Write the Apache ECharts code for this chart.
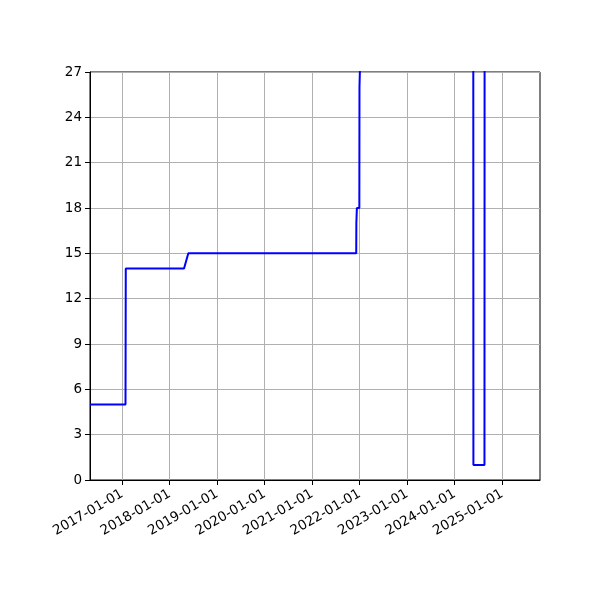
<!DOCTYPE html>
<html>
<head>
<meta charset="utf-8">
<script src="https://cdn.jsdelivr.net/npm/echarts@6/dist/echarts.min.js"></script>
<style>
  html, body { margin: 0; padding: 0; background: #fff; }
  #chart { width: 600px; height: 600px; }
</style>
</head>
<body>
<div id="chart"></div>
<script>
// data (values above 27 are off the top of the plot)
var dates = ['2016-04-28', '2017-01-26', '2017-01-28', '2018-04-21', '2018-05-24',
             '2021-12-05', '2021-12-06', '2021-12-09', '2021-12-10', '2021-12-29',
             '2021-12-30', '2022-01-10', '2022-01-11', '2024-05-23', '2024-05-24',
             '2024-08-17', '2024-08-18', '2025-06-01'];
var values = [5, 5, 14, 14, 15,
              15, 17, 17, 18, 18,
              26, 26, 30, 30, 1,
              1, 30, 30];
var yearTicks = ['2017-01-01', '2018-01-01', '2019-01-01', '2020-01-01', '2021-01-01',
                 '2022-01-01', '2023-01-01', '2024-01-01', '2025-01-01'];
var xMin = '2016-04-28';
var xMax = '2025-10-18';

function ts(s) { return new Date(s + 'T00:00:00Z').getTime(); }

var tickTimes = yearTicks.map(ts);
var seriesData = dates.map(function (d, i) { return [ts(d), values[i]]; });

var chart = echarts.init(document.getElementById('chart'));

var option = {
    animation: false,
    backgroundColor: '#fff',
    textStyle: { fontFamily: 'DejaVu Sans' },
    grid: {
        left: 90, right: 60, top: 72, bottom: 120,
        show: true, borderColor: '#000', borderWidth: 1,
        containLabel: false
    },
    xAxis: {
        type: 'value',
        min: ts(xMin),
        max: ts(xMax),
        axisLine: { lineStyle: { color: '#000', width: 1 } },
        axisTick: { show: true, length: 5, customValues: tickTimes, lineStyle: { color: '#000' } },
        axisLabel: {
            customValues: tickTimes,
            rotate: 30,
            margin: 13,
            fontSize: 13.5,
            color: '#000',
            formatter: function (v) {
                var d = new Date(v);
                var m = ('0' + (d.getUTCMonth() + 1)).slice(-2);
                var dd = ('0' + d.getUTCDate()).slice(-2);
                return d.getUTCFullYear() + '-' + m + '-' + dd;
            }
        },
        splitLine: { show: false }
    },
    yAxis: {
        type: 'value',
        min: 0,
        max: 27,
        interval: 3,
        axisLine: { show: true, lineStyle: { color: '#000', width: 1 } },
        axisTick: { show: true, length: 5, lineStyle: { color: '#000' } },
        axisLabel: { fontSize: 13.5, color: '#000', margin: 8 },
        splitLine: { show: true, lineStyle: { color: '#b0b0b0', width: 1 } }
    },
    series: [
        {
            // vertical grid lines at year ticks
            type: 'line',
            data: [],
            markLine: {
                silent: true,
                symbol: 'none',
                label: { show: false },
                lineStyle: { color: '#b0b0b0', width: 1, type: 'solid' },
                data: tickTimes.map(function (t) { return { xAxis: t }; })
            }
        },
        {
            type: 'line',
            data: seriesData,
            showSymbol: false,
            clip: true,
            lineStyle: { color: '#0000ff', width: 2 },
            z: 5
        }
    ]
};

chart.setOption(option);
</script>
</body>
</html>
